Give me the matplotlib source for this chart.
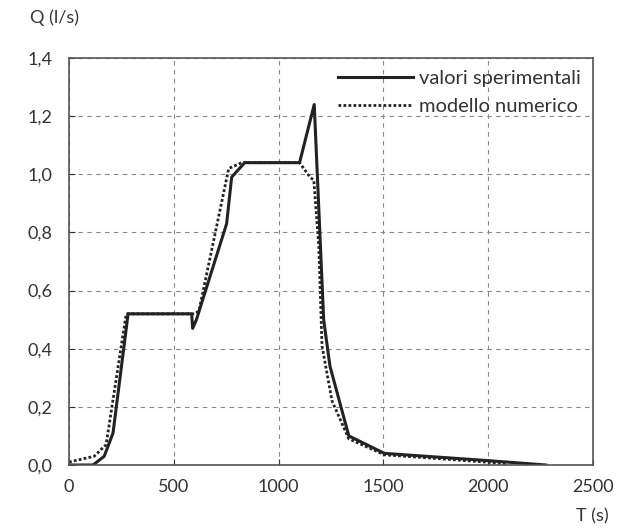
import matplotlib.pyplot as plt
from matplotlib.ticker import FuncFormatter

# valori sperimentali
t_exp = [0, 115, 168, 210, 282, 585, 590, 608, 752, 776, 838, 1100, 1170,
         1215, 1245, 1335, 1505, 2000, 2275]
q_exp = [0.0, 0.0, 0.03, 0.11, 0.52, 0.52, 0.47, 0.50, 0.83, 0.99, 1.04, 1.04, 1.24,
         0.50, 0.34, 0.10, 0.04, 0.015, 0.0]

# modello numerico
t_mod = [0, 120, 177, 273, 600, 620, 762, 824, 1100, 1150, 1168, 1192, 1207,
         1255, 1335, 1505, 1800, 2085]
q_mod = [0.01, 0.03, 0.07, 0.52, 0.52, 0.53, 1.02, 1.04, 1.04, 0.99, 0.98, 0.75, 0.41,
         0.22, 0.09, 0.035, 0.02, 0.005]

plt.rcParams['font.family'] = ['Lato', 'DejaVu Sans']

fig = plt.figure(figsize=(6.23, 5.28), dpi=100)
ax = fig.add_axes([69 / 623, 63 / 528, 524 / 623, 407 / 528])

ax.plot(t_exp, q_exp, color='#222222', lw=2.2, label='valori sperimentali')
ax.plot(t_mod, q_mod, color='#222222', lw=2.0, ls=(0, (1, 0.8)), label='modello numerico')

ax.set_xlim(0, 2500)
ax.set_ylim(0, 1.4)
ax.set_xticks([0, 500, 1000, 1500, 2000, 2500])
ax.set_yticks([0, 0.2, 0.4, 0.6, 0.8, 1.0, 1.2, 1.4])
ax.yaxis.set_major_formatter(FuncFormatter(lambda v, p: f'{v:.1f}'.replace('.', ',')))
ax.grid(True, color='#888888', ls=(0, (4, 4)), lw=0.8)
ax.tick_params(direction='in', length=4, labelsize=13, colors='#333333')
ax.tick_params(axis='x', pad=10)
ax.tick_params(axis='y', pad=12)
for s in ax.spines.values():
    s.set_color('#555555')
    s.set_linewidth(1.2)

fig.text(30 / 623, 1 - 18 / 528, 'Q (l/s)', fontsize=13, ha='left', va='center', color='#333333')
fig.text(592 / 623, 1 - 516 / 528, 'T (s)', fontsize=13, ha='center', va='center', color='#333333')

ax.legend(loc='upper right', frameon=False, fontsize=14.5, handlelength=3.7,
          handletextpad=0.3, borderaxespad=0.2, labelspacing=0.55,
          labelcolor='#333333')

fig.savefig('out.png', dpi=100)
